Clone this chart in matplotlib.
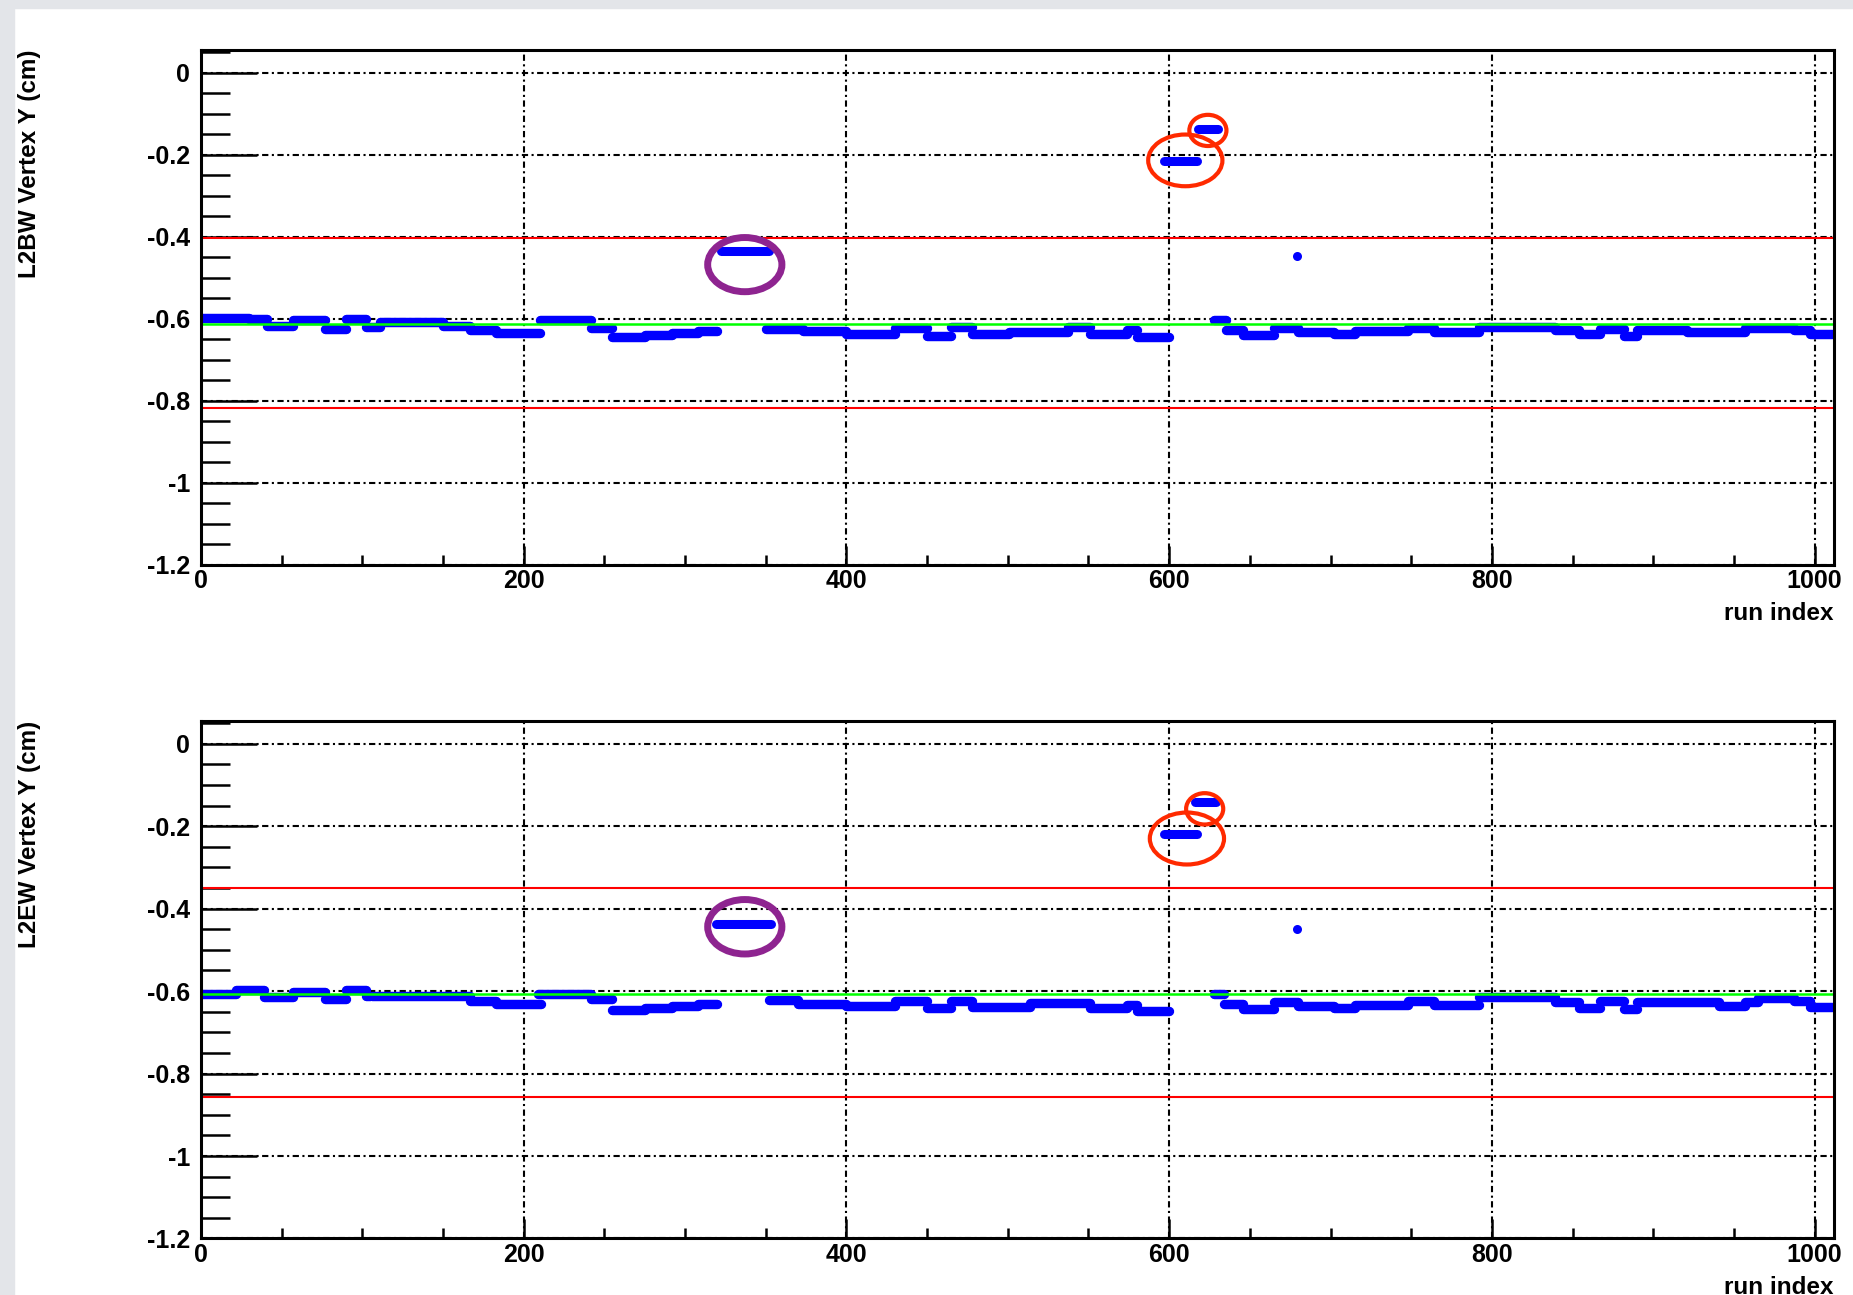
import matplotlib
matplotlib.use('Agg')
import matplotlib.pyplot as plt
from matplotlib.patches import Ellipse, Rectangle
from matplotlib.ticker import MultipleLocator, FuncFormatter

plt.rcParams['font.family'] = ['Liberation Sans', 'DejaVu Sans']
plt.rcParams['font.weight'] = 'bold'
plt.rcParams['axes.unicode_minus'] = False
plt.rcParams['lines.scale_dashes'] = False

# ---- data: step segments of vertex Y per run range (start run, end run, value) ----
bw_start = [0, 30, 41, 57, 77, 90, 102, 111, 150, 167, 183, 210, 242, 255, 275, 292, 308,
            350, 373, 400, 430, 450, 465, 478, 501, 537, 551, 574, 580,
            628, 635, 646, 665, 680, 702, 715, 748, 764, 792, 839, 854, 867, 882, 890, 921, 957, 987, 997]
bw_end = [30, 41, 57, 77, 90, 102, 111, 150, 167, 183, 210, 242, 255, 275, 292, 308, 320,
          373, 400, 430, 450, 465, 478, 501, 537, 551, 574, 580, 600,
          635, 646, 665, 680, 702, 715, 748, 764, 792, 839, 854, 867, 882, 890, 921, 957, 987, 997, 1011]
bw_val = [-0.598, -0.600, -0.617, -0.604, -0.624, -0.600, -0.620, -0.608, -0.618, -0.628, -0.634,
          -0.603, -0.622, -0.644, -0.639, -0.634, -0.630,
          -0.625, -0.629, -0.636, -0.623, -0.641, -0.621, -0.637, -0.631, -0.621, -0.637, -0.628, -0.645,
          -0.603, -0.628, -0.639, -0.622, -0.631, -0.637, -0.629, -0.622, -0.631, -0.620, -0.628,
          -0.637, -0.624, -0.641, -0.628, -0.631, -0.622, -0.627, -0.637]
bw_out_start = [322, 597, 618]
bw_out_end = [352, 617, 630]
bw_out_val = [-0.435, -0.216, -0.137]
bw_single = (679, -0.448)

ew_start = [0, 22, 39, 57, 77, 90, 102, 106, 167, 183, 209, 242, 255, 275, 292, 308,
            352, 370, 400, 430, 450, 465, 478, 514, 551, 574, 580,
            628, 634, 646, 665, 680, 702, 715, 748, 764, 792, 839, 854, 867, 882, 890, 941, 957, 965, 987, 997]
ew_end = [22, 39, 57, 77, 90, 102, 105, 167, 183, 211, 242, 255, 275, 292, 308, 320,
          370, 400, 430, 450, 465, 478, 514, 551, 574, 580, 600,
          634, 646, 665, 680, 702, 715, 748, 764, 792, 839, 854, 867, 882, 890, 941, 957, 965, 987, 997, 1011]
ew_val = [-0.606, -0.598, -0.614, -0.602, -0.619, -0.598, -0.612, -0.611, -0.624, -0.632, -0.606,
          -0.619, -0.646, -0.641, -0.636, -0.632,
          -0.622, -0.631, -0.636, -0.625, -0.640, -0.623, -0.639, -0.630, -0.642, -0.634, -0.648,
          -0.606, -0.632, -0.644, -0.627, -0.636, -0.640, -0.634, -0.623, -0.634, -0.615, -0.627,
          -0.640, -0.623, -0.644, -0.627, -0.636, -0.627, -0.617, -0.625, -0.638]
ew_out_start = [319, 597, 616]
ew_out_end = [353, 617, 629]
ew_out_val = [-0.438, -0.218, -0.142]
ew_single = (679, -0.450)

# reference lines: mean (green) and limits (red)
bw_mean, bw_limits = -0.612, [-0.403, -0.818]
ew_mean, ew_limits = -0.606, [-0.350, -0.858]

# hand-drawn rings around the outliers (center run, center value, width, height, colour)
bw_ring_x = [337, 610, 624]
bw_ring_y = [-0.468, -0.214, -0.141]
ew_ring_x = [337, 611, 622]
ew_ring_y = [-0.444, -0.230, -0.158]
ring_w = [46, 46, 23]
ring_h = [0.132, 0.126, 0.076]
ring_color = ['#8e2490', '#ff2a00', '#ff2a00']
ring_lw = [5, 3, 3]

fig = plt.figure(figsize=(18.53, 12.95), dpi=100)
fig.patches.append(Rectangle((0, 0), 14 / 1853, 1, transform=fig.transFigure,
                             color='#e3e5e9', zorder=-1))
fig.patches.append(Rectangle((0, 1 - 8 / 1295), 1, 8 / 1295, transform=fig.transFigure,
                             color='#e3e5e9', zorder=-1))

ax_top = fig.add_axes([0.10847, 0.56371, 0.88127, 0.39768])
ax_bot = fig.add_axes([0.10847, 0.04363, 0.88127, 0.39961])

blue = '#0000ff'


def draw_panel(ax, start, end, val, o_start, o_end, o_val, single, mean, limits,
               rx, ry, ylabel):
    ax.hlines(val, start, end, colors=blue, lw=6.8, capstyle='round', zorder=2)
    ax.hlines(o_val, o_start, o_end, colors=blue, lw=6.5, capstyle='round', zorder=2)
    ax.plot([single[0]], [single[1]], 'o', ms=6.5, color=blue, mec='none', zorder=2)

    ax.axhline(mean, color='#00ff00', lw=1.8, zorder=3)
    for lim in limits:
        ax.axhline(lim, color='#ff0000', lw=1.5, zorder=3)

    for i in range(len(rx)):
        ax.add_patch(Ellipse((rx[i], ry[i]), ring_w[i], ring_h[i], fill=False,
                             edgecolor=ring_color[i], lw=ring_lw[i], zorder=4))

    ax.set_xlim(0, 1012)
    ax.set_ylim(-1.2, 0.055)
    ax.xaxis.set_major_locator(MultipleLocator(200))
    ax.xaxis.set_minor_locator(MultipleLocator(50))
    ax.yaxis.set_major_locator(MultipleLocator(0.2))
    ax.yaxis.set_minor_locator(MultipleLocator(0.05))
    fmt = FuncFormatter(lambda v, p: f"{round(v, 3) + 0:g}")
    ax.xaxis.set_major_formatter(fmt)
    ax.yaxis.set_major_formatter(fmt)

    ax.grid(True, which='major', color='black', lw=1.5,
            linestyle=(0, (4.5, 2.5, 1.5, 2.5)), zorder=1)
    ax.tick_params(axis='y', which='major', direction='in', length=40, width=1.8,
                   pad=8, labelsize=18)
    ax.tick_params(axis='y', which='minor', direction='in', length=21, width=1.8)
    ax.tick_params(axis='x', which='major', direction='in', length=14, width=1.8,
                   pad=3, labelsize=18)
    ax.tick_params(axis='x', which='minor', direction='in', length=7, width=1.8)
    for s in ax.spines.values():
        s.set_linewidth(2.2)
        s.set_zorder(5)

    ax.text(-0.105, 1.0, ylabel, transform=ax.transAxes, rotation=90,
            ha='center', va='top', fontsize=17.5, fontweight='bold')
    ax.text(1.0, -0.094, 'run index', transform=ax.transAxes,
            ha='right', va='center', fontsize=17.5, fontweight='bold')


draw_panel(ax_top, bw_start, bw_end, bw_val, bw_out_start, bw_out_end, bw_out_val,
           bw_single, bw_mean, bw_limits, bw_ring_x, bw_ring_y, 'L2BW Vertex Y (cm)')
draw_panel(ax_bot, ew_start, ew_end, ew_val, ew_out_start, ew_out_end, ew_out_val,
           ew_single, ew_mean, ew_limits, ew_ring_x, ew_ring_y, 'L2EW Vertex Y (cm)')

fig.savefig('out.png', dpi=100)
